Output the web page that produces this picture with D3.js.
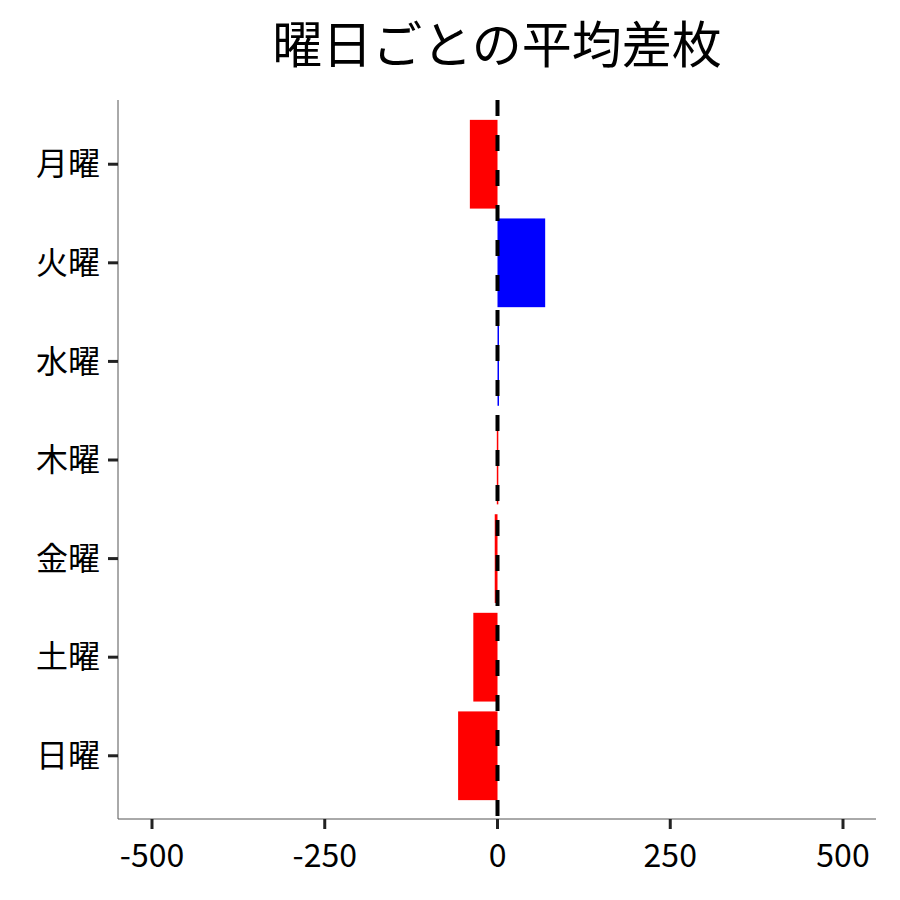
<!DOCTYPE html>
<html><head><meta charset="utf-8">
<script src="https://cdn.jsdelivr.net/npm/d3@7"></script>
<style>body{margin:0;background:#fff}text{font-family:"Noto Sans CJK JP","Noto Sans",sans-serif}</style>
</head><body><div id="chart"></div>
<script>
const days = ["月曜","火曜","水曜","木曜","金曜","土曜","日曜"];
const diffs = [-40, 69, 2, -1, -4, -35, -57];
const xTicks = [-500, -250, 0, 250, 500];

const W = 900, H = 900;
const plotL = 118, plotR = 876, plotT = 100, plotB = 819;

const svg = d3.select("#chart").append("svg").attr("width", W).attr("height", H);

const x = d3.scaleLinear().domain([-500, 500]).range([152, 843]);
const y = d3.scaleBand().domain(days).range([110, 810]).padding(0.1);

svg.append("text").attr("x", 497).attr("y", 63).attr("text-anchor", "middle")
    .style("font-size", "50px").text("曜日ごとの平均差枚");

//bars
svg.selectAll("rect.bar").data(diffs).enter().append("rect")
    .attr("x", d => x(Math.min(0, d)))
    .attr("y", (d, i) => y(days[i]))
    .attr("width", d => Math.max(1.5, Math.abs(x(d) - x(0))))
    .attr("height", y.bandwidth())
    .attr("fill", d => d >= 0 ? "#0000ff" : "#ff0000");

//zero line
svg.append("line").attr("x1", x(0)).attr("x2", x(0)).attr("y1", plotT).attr("y2", plotB)
    .attr("stroke", "black").attr("stroke-width", 4).style("stroke-dasharray", "16,19");

//axis lines
svg.append("line").attr("x1", plotL).attr("x2", plotL).attr("y1", plotT).attr("y2", plotB).attr("stroke", "#555");
svg.append("line").attr("x1", plotL).attr("x2", plotR).attr("y1", plotB).attr("y2", plotB).attr("stroke", "#555");

//y ticks
const yt = svg.selectAll("g.yt").data(days).enter().append("g")
    .attr("transform", d => `translate(0,${y(d) + y.bandwidth() / 2})`);
yt.append("line").attr("x1", plotL - 10).attr("x2", plotL).attr("stroke", "#222").attr("stroke-width", 3);
yt.append("text").attr("x", plotL - 18).attr("dy", "0.35em").attr("text-anchor", "end")
    .style("font-size", "32px").text(d => d);

//x ticks
const xt = svg.selectAll("g.xt").data(xTicks).enter().append("g")
    .attr("transform", d => `translate(${x(d)},${plotB})`);
xt.append("line").attr("y1", 0).attr("y2", 10).attr("stroke", "#222").attr("stroke-width", 3);
xt.append("text").attr("y", 48).attr("text-anchor", "middle")
    .style("font-size", "32px").text(d => d);
</script></body></html>
